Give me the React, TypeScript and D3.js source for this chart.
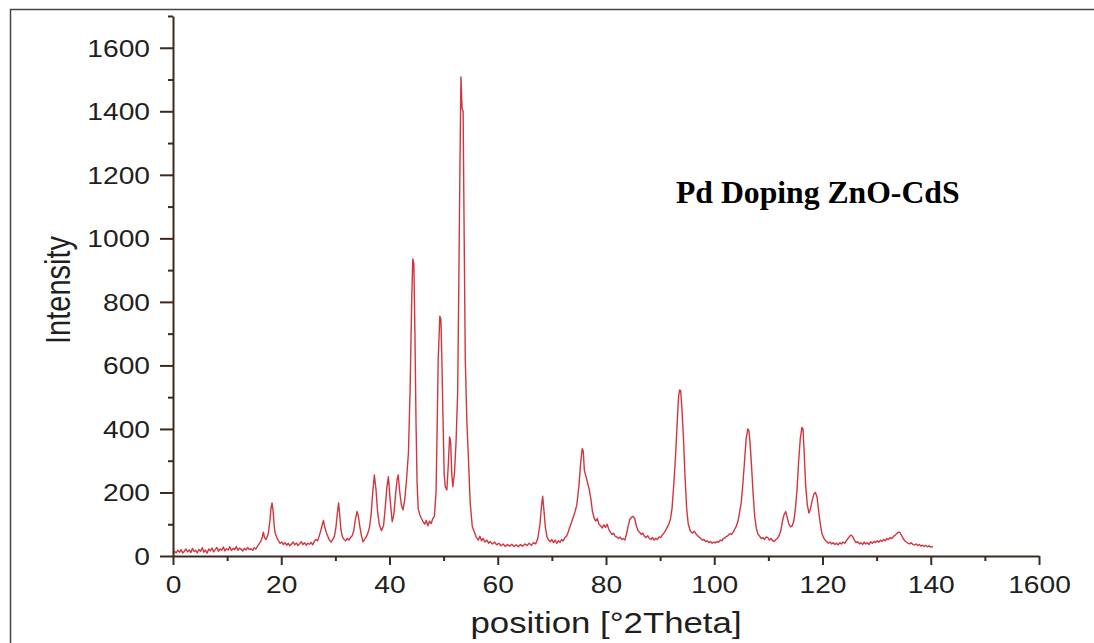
import React, { useEffect, useRef } from "react";
import * as d3 from "d3";

const W = 1094;
const H = 643;
const dim = { left: 173, right: 1039, top: 16, bottom: 556 };

// XRD scan: [2theta, intensity]
const scanLow: [number, number][] = [
  [0, 8], [0.3, 14], [0.6, 10], [0.9, 18], [1.2, 12], [1.5, 20], [1.8, 9], [2.1, 15], [2.4, 22], [2.7, 13],
  [3.0, 19], [3.3, 11], [3.6, 24], [3.9, 14], [4.2, 18], [4.5, 10], [4.8, 21], [5.1, 15], [5.4, 26], [5.7, 12],
  [6.0, 19], [6.3, 9], [6.6, 22], [6.9, 16], [7.2, 25], [7.5, 13], [7.8, 20], [8.1, 27], [8.4, 15], [8.7, 22],
  [9.0, 18], [9.3, 28], [9.6, 16], [9.9, 23], [10.2, 19], [10.5, 29], [10.8, 17], [11.1, 24], [11.4, 20], [11.7, 30],
  [12.0, 18], [12.3, 25], [12.6, 21], [12.9, 16], [13.2, 24], [13.5, 19], [13.8, 27], [14.1, 20], [14.4, 23], [14.7, 18],
  [15.0, 26], [15.3, 22], [15.6, 30], [15.9, 38], [16.2, 45], [16.5, 60], [16.7, 75], [16.9, 58], [17.2, 52], [17.6, 70],
  [17.9, 110], [18.1, 150], [18.3, 167], [18.5, 140], [18.7, 95], [18.9, 70], [19.2, 58], [19.5, 48], [19.8, 40], [20.1, 44],
  [20.4, 36], [20.7, 42], [21.0, 34], [21.3, 40], [21.6, 32], [21.9, 38], [22.2, 44], [22.5, 35], [22.8, 41], [23.1, 33],
  [23.4, 39], [23.7, 45], [24.0, 36], [24.3, 42], [24.6, 34], [24.9, 40], [25.2, 37], [25.5, 43], [25.8, 35], [26.1, 46],
  [26.4, 52], [26.7, 48], [27.0, 62], [27.3, 80], [27.6, 100], [27.8, 112], [28.0, 95], [28.3, 75], [28.6, 62], [28.9, 50],
  [29.2, 44], [29.5, 52], [29.8, 60], [30.1, 90], [30.4, 140], [30.6, 167], [30.8, 130], [31.0, 85], [31.3, 60], [31.6, 52],
  [31.9, 48], [32.2, 55], [32.5, 50], [32.8, 58], [33.1, 64], [33.4, 80], [33.7, 115], [34.0, 140], [34.2, 130], [34.5, 95],
  [34.8, 65], [35.1, 45], [35.4, 52], [35.7, 60], [36.0, 72], [36.3, 90], [36.6, 130], [36.9, 200], [37.2, 255], [37.5, 210],
  [37.8, 140], [38.1, 100], [38.5, 80], [38.9, 95], [39.2, 150], [39.5, 215], [39.8, 250],
];

const scanMid: [number, number][] = [
  [40.1, 180], [40.5, 108], [40.8, 130], [41.1, 190], [41.4, 240], [41.6, 255], [41.9, 200], [42.2, 160], [42.5, 145], [42.8, 175],
  [43.1, 230], [43.5, 325], [43.8, 520], [44.1, 800], [44.3, 935], [44.5, 920], [44.7, 700], [44.9, 420], [45.1, 230], [45.3, 150],
  [45.6, 130], [45.9, 118], [46.2, 108], [46.5, 100], [46.8, 112], [47.1, 95], [47.4, 110], [47.7, 102], [48.0, 118], [48.3, 125],
  [48.6, 200], [48.8, 400], [49.0, 620], [49.3, 755], [49.5, 745], [49.7, 600], [49.9, 420], [50.1, 260], [50.3, 218], [50.6, 208],
  [50.9, 300], [51.1, 375], [51.3, 360], [51.5, 260], [51.7, 218], [52.0, 260], [52.3, 360], [52.6, 520], [52.8, 850], [53.0, 1200],
  [53.2, 1508], [53.4, 1410], [53.6, 1400], [53.8, 1000], [54.0, 620], [54.3, 420], [54.6, 300], [54.9, 170], [55.3, 92], [55.7, 75],
  [56.0, 60], [56.4, 50], [56.7, 62], [57.0, 48], [57.3, 55], [57.6, 44], [58.0, 50], [58.3, 40], [58.6, 46], [59.0, 38],
  [59.4, 44], [59.8, 35],
];

const scanHigh: [number, number][] = [
  [60.2, 40], [60.6, 32], [61.0, 38], [61.4, 30], [61.8, 36], [62.2, 31], [62.6, 37], [63.0, 30], [63.4, 35], [63.8, 29],
  [64.2, 36], [64.6, 31], [65.0, 38], [65.4, 33], [65.8, 40], [66.2, 34], [66.6, 42], [67.0, 38], [67.4, 55], [67.8, 100],
  [68.1, 160], [68.3, 188], [68.5, 150], [68.8, 90], [69.1, 60], [69.4, 50], [69.7, 45], [70.0, 52], [70.3, 42], [70.6, 50],
  [70.9, 40], [71.2, 48], [71.5, 43], [71.8, 52], [72.1, 47], [72.4, 58], [72.7, 62], [73.0, 75], [73.4, 95], [73.8, 115],
  [74.2, 135], [74.6, 160], [75.0, 220], [75.3, 290], [75.6, 338], [75.8, 330], [76.0, 270], [76.3, 250], [76.6, 230], [76.9, 210],
  [77.2, 180], [77.5, 140], [77.8, 120], [78.1, 110], [78.4, 118], [78.7, 100], [79.0, 95], [79.3, 88], [79.6, 98], [79.9, 90],
  [80.2, 100], [80.5, 85], [80.8, 75], [81.1, 68], [81.4, 72], [81.7, 62], [82.0, 60], [82.3, 55], [82.6, 60], [82.9, 52],
  [83.2, 55], [83.5, 50], [83.8, 70], [84.1, 95], [84.4, 115], [84.7, 122], [85.0, 125], [85.3, 118], [85.6, 95], [85.9, 80],
  [86.2, 75], [86.5, 68], [86.8, 72], [87.1, 62], [87.4, 58], [87.7, 64], [88.0, 55], [88.3, 52], [88.6, 58], [88.9, 50],
  [89.2, 56], [89.5, 52], [89.8, 60], [90.1, 58], [90.4, 66], [90.7, 72], [91.0, 80], [91.3, 90], [91.6, 100], [91.9, 115],
  [92.2, 150], [92.5, 220], [92.8, 300], [93.1, 400], [93.4, 500], [93.6, 523], [93.8, 520], [94.0, 470], [94.3, 375], [94.6, 250],
  [94.9, 150], [95.2, 100], [95.6, 78], [96.0, 72], [96.3, 78], [96.6, 70], [96.9, 64], [97.2, 60], [97.5, 55], [97.8, 50],
  [98.1, 52], [98.4, 45], [98.7, 48], [99.0, 42], [99.3, 46], [99.6, 40], [99.9, 44], [100.2, 41], [100.5, 46], [100.8, 43],
  [101.1, 50], [101.4, 48], [101.7, 55], [102.0, 58], [102.3, 62], [102.6, 65], [102.9, 70], [103.2, 68], [103.5, 75], [103.8, 85],
  [104.1, 95], [104.4, 110], [104.7, 140], [105.0, 170], [105.3, 230], [105.6, 300], [105.9, 370], [106.2, 400], [106.4, 395], [106.6, 360],
  [106.9, 280], [107.2, 190], [107.5, 120], [107.8, 85], [108.1, 68], [108.4, 62], [108.7, 55], [109.0, 58], [109.3, 52], [109.6, 60],
  [109.9, 58], [110.2, 50], [110.5, 55], [110.8, 48], [111.1, 46], [111.4, 52], [111.7, 56], [112.0, 65], [112.3, 80], [112.6, 110],
  [112.9, 130], [113.2, 140], [113.5, 120], [113.8, 100], [114.1, 92], [114.4, 95], [114.7, 110], [115.0, 150], [115.3, 210], [115.6, 300],
  [115.9, 370], [116.2, 405], [116.4, 400], [116.6, 330], [116.9, 220], [117.2, 160], [117.5, 135], [117.8, 150], [118.1, 175], [118.4, 195],
  [118.7, 200], [119.0, 185], [119.3, 140], [119.6, 100], [119.9, 70], [120.2, 58], [120.5, 50], [120.8, 45], [121.1, 40], [121.4, 44],
  [121.7, 38], [122.0, 42], [122.3, 36], [122.6, 40], [122.9, 35], [123.2, 42], [123.5, 38], [123.8, 44], [124.1, 40], [124.4, 48],
  [124.7, 55], [125.0, 62], [125.3, 66], [125.6, 60], [125.9, 50], [126.2, 42], [126.5, 45], [126.8, 38], [127.1, 42], [127.4, 36],
  [127.7, 44], [128.0, 38], [128.3, 42], [128.6, 36], [128.9, 45], [129.2, 40], [129.5, 46], [129.8, 42], [130.1, 48], [130.4, 43],
  [130.7, 50], [131.0, 46], [131.3, 52], [131.6, 48], [131.9, 55], [132.2, 52], [132.5, 58], [132.8, 55], [133.1, 62], [133.4, 65],
  [133.7, 70], [134.0, 75], [134.3, 74], [134.6, 65], [134.9, 55], [135.2, 48], [135.5, 44], [135.8, 40], [136.1, 38], [136.4, 42],
  [136.7, 36], [137.0, 35], [137.3, 38], [137.6, 33], [137.9, 36], [138.2, 31], [138.5, 34], [138.8, 30], [139.1, 33], [139.4, 29],
  [139.7, 32], [140.0, 28], [140.4, 30],
];

const xTicks = [0, 20, 40, 60, 80, 100, 120, 140, 160];
const xTickLabels = ["0", "20", "40", "60", "80", "100", "120", "140", "1600"];
const yTicks = [0, 200, 400, 600, 800, 1000, 1200, 1400, 1600];
const title = "Pd Doping ZnO-CdS";
const xTitle = "position [\u00b02Theta]";
const yTitle = "Intensity";

const axisColor = "#3b2a1e";
const lineColor = "#d3353f";
const sans = "'Liberation Sans', Arial, sans-serif";
const stretch = 1.2; // the picture's sans text is widened

function draw(node: SVGSVGElement) {
  const svg = d3.select(node);
  svg.selectAll("*").remove();

  const x = d3.scaleLinear().domain([0, 160]).range([dim.left, dim.right]);
  const y = d3.scaleLinear().domain([0, 1700]).range([dim.bottom, dim.top]);

  svg.append("rect").attr("width", W).attr("height", H).attr("fill", "#fff");

  // frame
  svg.append("path")
    .attr("d", `M10.5,${H} V9.5 H${W}`)
    .attr("fill", "none")
    .attr("stroke", "#444")
    .attr("stroke-width", 1.5);

  // curve
  const data = scanLow.concat(scanMid, scanHigh);
  const line = d3.line<[number, number]>().x(d => x(d[0])).y(d => y(d[1]));
  svg.append("path")
    .datum(data)
    .attr("d", line)
    .attr("fill", "none")
    .attr("stroke", lineColor)
    .attr("stroke-width", 1.4)
    .attr("stroke-linejoin", "round");

  // minor ticks
  svg.append("g")
    .attr("transform", `translate(0,${dim.bottom})`)
    .call(d3.axisBottom(x).tickValues(d3.range(10, 160, 20)).tickFormat(() => "").tickSize(5))
    .call(g => g.select(".domain").remove());
  svg.append("g")
    .attr("transform", `translate(${dim.left},0)`)
    .call(d3.axisLeft(y).tickValues(d3.range(100, 1800, 200)).tickFormat(() => "").tickSize(5))
    .call(g => g.select(".domain").remove());

  // x axis
  const gx = svg.append("g")
    .attr("transform", `translate(0,${dim.bottom})`)
    .call(d3.axisBottom(x).tickValues(xTicks).tickFormat((d, i) => xTickLabels[i]).tickSize(9).tickSizeOuter(0));
  gx.selectAll("text")
    .attr("y", 37).attr("dy", 0)
    .attr("transform", `scale(${stretch},1)`);

  // y axis
  const gy = svg.append("g")
    .attr("transform", `translate(${dim.left},0)`)
    .call(d3.axisLeft(y).tickValues(yTicks).tickFormat(d3.format("d")).tickSize(13).tickSizeOuter(0));
  gy.selectAll("text")
    .attr("x", -23 / stretch).attr("dy", "0.36em")
    .attr("transform", `scale(${stretch},1)`);

  svg.selectAll(".domain, .tick line")
    .attr("stroke", axisColor)
    .attr("stroke-width", 2);
  svg.selectAll(".tick text")
    .attr("fill", "#1f1f1f")
    .style("font-family", sans)
    .style("font-size", "23.5px");

  // axis titles
  svg.append("text")
    .attr("transform", `translate(${(dim.left + dim.right) / 2},633) scale(${stretch},1)`)
    .attr("text-anchor", "middle")
    .attr("fill", "#1f1f1f")
    .style("font-family", sans)
    .style("font-size", "29px")
    .text(xTitle);

  svg.append("text")
    .attr("transform", `translate(70,290) scale(${stretch},1) rotate(-90)`)
    .attr("text-anchor", "middle")
    .attr("fill", "#1f1f1f")
    .style("font-family", sans)
    .style("font-size", "29px")
    .text(yTitle);

  // title inside plot
  svg.append("text")
    .attr("x", 676)
    .attr("y", 203)
    .attr("fill", "#000")
    .style("font-family", "'Liberation Serif', 'Times New Roman', serif")
    .style("font-weight", "bold")
    .style("font-size", "31.7px")
    .text(title);
}

export default function App() {
  const ref = useRef<SVGSVGElement>(null);
  useEffect(() => {
    if (ref.current) draw(ref.current);
  }, []);
  return (
    <svg
      ref={ref}
      width={W}
      height={H}
      style={{ position: "absolute", left: 0, top: 0, display: "block" }}
    />
  );
}
